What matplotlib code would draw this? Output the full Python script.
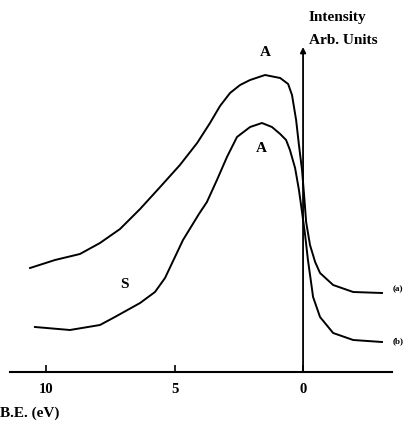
import matplotlib

matplotlib.use("Agg")

import matplotlib.pyplot as plt

plt.rcParams["font.family"] = ["Liberation Serif", "DejaVu Serif"]

# binding energy (eV) and intensity (arb. units)
be_a = [10.62, 9.65, 8.68, 7.90, 7.12, 6.34, 5.56, 4.79, 4.12, 3.62, 3.23, 2.84,
        2.45, 2.06, 1.48, 0.89, 0.58, 0.43, 0.27, 0.16, 0.04, -0.04, -0.12,
        -0.27, -0.47, -0.66, -1.17, -1.95, -3.07]
int_a = [1.04, 1.12, 1.18, 1.29, 1.43, 1.63, 1.85, 2.07, 2.29, 2.49, 2.66, 2.79,
         2.87, 2.92, 2.97, 2.94, 2.88, 2.77, 2.52, 2.27, 2.02, 1.77, 1.50,
         1.27, 1.10, 0.99, 0.87, 0.80, 0.79]

be_b = [10.43, 9.07, 7.90, 7.32, 6.34, 5.76, 5.37, 4.67, 4.05, 3.74, 3.35, 2.96,
        2.57, 2.06, 1.60, 1.21, 0.89, 0.66, 0.51, 0.31, 0.16, 0.04, -0.08,
        -0.19, -0.31, -0.39, -0.66, -1.17, -1.95, -3.07]
int_b = [0.45, 0.42, 0.47, 0.55, 0.69, 0.80, 0.94, 1.32, 1.58, 1.70, 1.92, 2.15,
         2.35, 2.45, 2.49, 2.45, 2.38, 2.32, 2.22, 2.04, 1.82, 1.60, 1.37,
         1.12, 0.90, 0.75, 0.55, 0.39, 0.32, 0.30]

ticks = [10, 5, 0]
tick_labels = ["10", "5", "0"]

fig = plt.figure(figsize=(4.06, 4.28), dpi=100)
ax = fig.add_axes([10 / 406, 56 / 428, 382 / 406, 372 / 428])
ax.set_xlim(11.40, -3.46)
ax.set_ylim(0, 3.72)

ax.plot(be_a, int_a, color="black", lw=1.4, solid_joinstyle="round")
ax.plot(be_b, int_b, color="black", lw=1.4, solid_joinstyle="round")

# vertical intensity axis at E_F
ax.annotate("", xy=(0, 3.25), xytext=(0, 0),
            arrowprops=dict(arrowstyle="-|>", color="black", lw=1.3,
                            mutation_scale=8, shrinkA=0, shrinkB=0))

for side in ["left", "right", "top"]:
    ax.spines[side].set_visible(False)
ax.spines["bottom"].set_linewidth(1.5)
ax.set_yticks([])
ax.set_xticks(ticks)
ax.set_xticklabels(tick_labels, fontsize=10.5, fontweight="bold")
ax.tick_params(axis="x", direction="in", length=5, width=1.2, pad=8)

ax.text(1.48, 3.19, "A", ha="center", va="center", fontsize=11, fontweight="bold")
ax.text(1.63, 2.24, "A", ha="center", va="center", fontsize=11, fontweight="bold")
ax.text(6.93, 0.87, "S", ha="center", va="center", fontsize=11, fontweight="bold")
ax.text(-3.70, 0.83, "(a)", ha="center", va="center", fontsize=6.5, fontweight="bold")
ax.text(-3.70, 0.31, "(b)", ha="center", va="center", fontsize=6.5, fontweight="bold")
ax.text(-0.23, 3.55, "Intensity", ha="left", va="center", fontsize=11, fontweight="bold")
ax.text(-0.23, 3.32, "Arb. Units", ha="left", va="center", fontsize=11, fontweight="bold")

fig.text(0.0, 1 - 413 / 428, "B.E. (eV)", ha="left", va="center", fontsize=11, fontweight="bold")

fig.savefig("out.png", dpi=100)
